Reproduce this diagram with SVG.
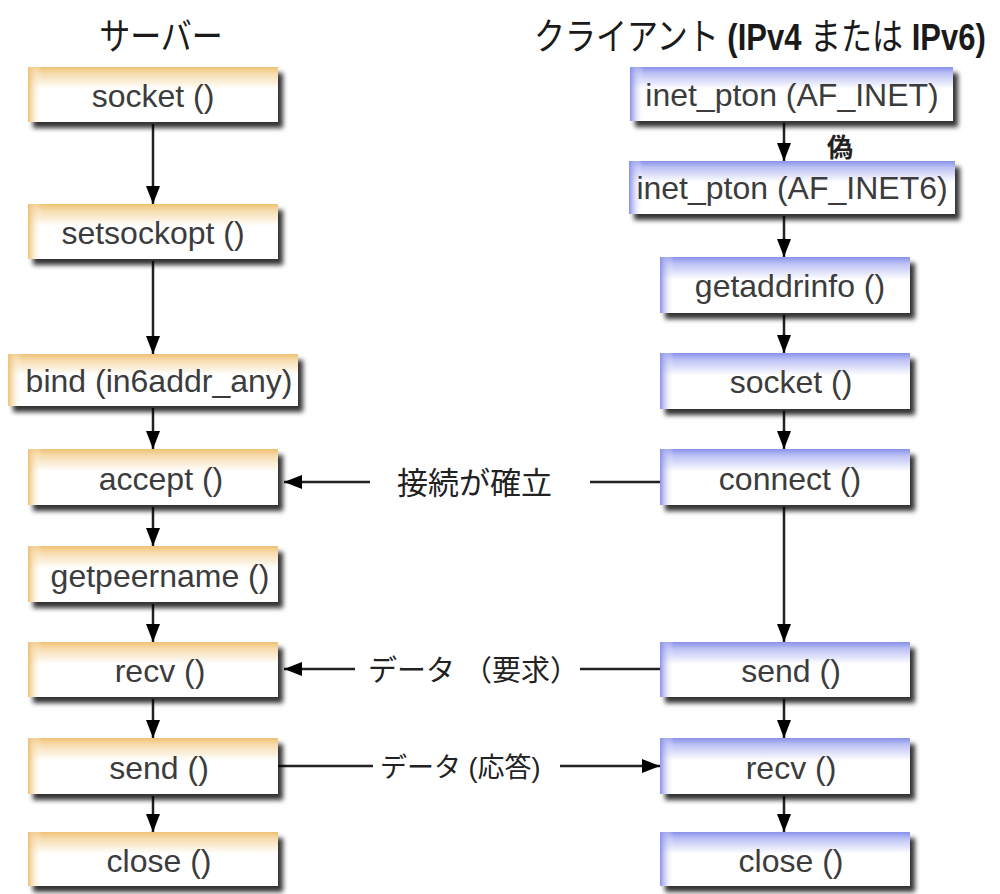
<svg xmlns="http://www.w3.org/2000/svg" width="1000" height="894" viewBox="0 0 1000 894">
<style>
  .box-text{font-family:"Liberation Sans","Noto Sans CJK JP",sans-serif;font-size:32px;fill:#3c3c3c;text-anchor:middle}
  .hdr{font-family:"Liberation Sans","Noto Sans CJK JP",sans-serif;font-size:31px;fill:#1a1a1a}
  .lbl{font-family:"Liberation Sans","Noto Sans CJK JP",sans-serif;fill:#222}
  .conn line{stroke:#222;stroke-width:2.5}
  .shadow{fill:#000;opacity:.8;filter:url(#blur)}
  .srv .bg{fill:url(#orV)}
  .srv .edge{fill:url(#orH)}
  .cli .bg{fill:url(#blV)}
  .cli .edge{fill:url(#blH)}
</style>
<defs>
  <filter id="blur" x="-10%" y="-30%" width="120%" height="160%"><feGaussianBlur stdDeviation="2.5"/></filter>
  <linearGradient id="orV" x1="0" y1="0" x2="0" y2="1">
    <stop offset="0" stop-color="#efc173"/><stop offset="0.12" stop-color="#f6dcae"/><stop offset="0.4" stop-color="#ffffff"/><stop offset="1" stop-color="#ffffff"/>
  </linearGradient>
  <linearGradient id="orH" x1="0" y1="0" x2="1" y2="0">
    <stop offset="0" stop-color="#efc173" stop-opacity="1"/><stop offset="1" stop-color="#ffffff" stop-opacity="0"/>
  </linearGradient>
  <linearGradient id="blV" x1="0" y1="0" x2="0" y2="1">
    <stop offset="0" stop-color="#8891ea"/><stop offset="0.12" stop-color="#bcc1f4"/><stop offset="0.4" stop-color="#ffffff"/><stop offset="1" stop-color="#ffffff"/>
  </linearGradient>
  <linearGradient id="blH" x1="0" y1="0" x2="1" y2="0">
    <stop offset="0" stop-color="#8891ea" stop-opacity="1"/><stop offset="1" stop-color="#ffffff" stop-opacity="0"/>
  </linearGradient>
  <marker id="arr" viewBox="0 0 18 14" markerWidth="18" markerHeight="14" refX="18" refY="7" orient="auto" markerUnits="userSpaceOnUse">
    <path d="M0,0 L18,7 L0,14 z" fill="#000"/>
  </marker>
</defs>
<rect width="1000" height="894" fill="#fff"/>

<!-- headers -->
<text class="hdr" transform="translate(161,50) scale(1,1.2)" text-anchor="middle">サーバー</text>
<text class="hdr" transform="translate(534,50) scale(1,1.2)">クライアント<tspan font-weight="bold"> (IPv4 </tspan>または<tspan font-weight="bold"> IPv6)</tspan></text>

<!-- connectors -->
<g id="connectors" class="conn">
  <line x1="153" y1="124" x2="153" y2="204" marker-end="url(#arr)"/>
  <line x1="153" y1="261" x2="153" y2="354" marker-end="url(#arr)"/>
  <line x1="153" y1="408" x2="153" y2="449" marker-end="url(#arr)"/>
  <line x1="153" y1="507" x2="153" y2="546" marker-end="url(#arr)"/>
  <line x1="153" y1="604" x2="153" y2="642" marker-end="url(#arr)"/>
  <line x1="153" y1="699" x2="153" y2="738" marker-end="url(#arr)"/>
  <line x1="153" y1="796" x2="153" y2="832" marker-end="url(#arr)"/>

  <line x1="784" y1="123" x2="784" y2="161" marker-end="url(#arr)"/>
  <line x1="784" y1="216" x2="784" y2="257" marker-end="url(#arr)"/>
  <line x1="784" y1="315" x2="784" y2="353" marker-end="url(#arr)"/>
  <line x1="784" y1="411" x2="784" y2="449" marker-end="url(#arr)"/>
  <line x1="784" y1="507" x2="784" y2="642" marker-end="url(#arr)"/>
  <line x1="784" y1="699" x2="784" y2="738" marker-end="url(#arr)"/>
  <line x1="784" y1="796" x2="784" y2="832" marker-end="url(#arr)"/>

  <line x1="370" y1="482" x2="284" y2="482" marker-end="url(#arr)"/>
  <line x1="590" y1="482" x2="660" y2="482"/>
  <line x1="355" y1="669" x2="284" y2="669" marker-end="url(#arr)"/>
  <line x1="580" y1="669" x2="660" y2="669"/>
  <line x1="278" y1="766" x2="373" y2="766"/>
  <line x1="560" y1="766" x2="660" y2="766" marker-end="url(#arr)"/>

  <text class="lbl" x="827" y="157" font-size="26" font-weight="bold">偽</text>
  <text class="lbl" x="397" y="494" font-size="31">接続が確立</text>
  <text class="lbl" x="368" y="681" font-size="29">データ （要求）</text>
  <text class="lbl" x="380" y="777" font-size="27">データ (応答)</text>
</g>

<!-- server nodes -->
<g id="srv-socket" class="srv">
  <rect class="shadow" x="33" y="73" width="250" height="55"/>
  <rect class="bg" x="28" y="67" width="250" height="55"/>
  <rect class="edge" x="28" y="67" width="14" height="55"/>
  <text class="box-text" x="153" y="107">socket ()</text>
</g>
<g id="srv-setsockopt" class="srv">
  <rect class="shadow" x="33" y="210" width="250" height="55"/>
  <rect class="bg" x="28" y="204" width="250" height="55"/>
  <rect class="edge" x="28" y="204" width="14" height="55"/>
  <text class="box-text" x="153" y="244">setsockopt ()</text>
</g>
<g id="srv-bind" class="srv">
  <rect class="shadow" x="13" y="360" width="290" height="52"/>
  <rect class="bg" x="8" y="354" width="290" height="52"/>
  <rect class="edge" x="8" y="354" width="14" height="52"/>
  <text class="box-text" x="159" y="392">bind (in6addr_any)</text>
</g>
<g id="srv-accept" class="srv">
  <rect class="shadow" x="33" y="455" width="250" height="56"/>
  <rect class="bg" x="28" y="449" width="250" height="56"/>
  <rect class="edge" x="28" y="449" width="14" height="56"/>
  <text class="box-text" x="161" y="490">accept ()</text>
</g>
<g id="srv-getpeername" class="srv">
  <rect class="shadow" x="33" y="552" width="250" height="56"/>
  <rect class="bg" x="28" y="546" width="250" height="56"/>
  <rect class="edge" x="28" y="546" width="14" height="56"/>
  <text class="box-text" x="160" y="587">getpeername ()</text>
</g>
<g id="srv-recv" class="srv">
  <rect class="shadow" x="33" y="648" width="250" height="55"/>
  <rect class="bg" x="28" y="642" width="250" height="55"/>
  <rect class="edge" x="28" y="642" width="14" height="55"/>
  <text class="box-text" x="160" y="682">recv ()</text>
</g>
<g id="srv-send" class="srv">
  <rect class="shadow" x="33" y="744" width="250" height="56"/>
  <rect class="bg" x="28" y="738" width="250" height="56"/>
  <rect class="edge" x="28" y="738" width="14" height="56"/>
  <text class="box-text" x="159" y="779">send ()</text>
</g>
<g id="srv-close" class="srv">
  <rect class="shadow" x="33" y="838" width="250" height="54"/>
  <rect class="bg" x="28" y="832" width="250" height="54"/>
  <rect class="edge" x="28" y="832" width="14" height="54"/>
  <text class="box-text" x="159" y="872">close ()</text>
</g>

<!-- client nodes -->
<g id="cli-inet-pton4" class="cli">
  <rect class="shadow" x="635" y="73" width="323" height="54"/>
  <rect class="bg" x="630" y="67" width="323" height="54"/>
  <rect class="edge" x="630" y="67" width="14" height="54"/>
  <text class="box-text" x="792" y="106">inet_pton (AF_INET)</text>
</g>
<g id="cli-inet-pton6" class="cli">
  <rect class="shadow" x="634" y="167" width="326" height="53"/>
  <rect class="bg" x="629" y="161" width="326" height="53"/>
  <rect class="edge" x="629" y="161" width="14" height="53"/>
  <text class="box-text" x="792" y="199">inet_pton (AF_INET6)</text>
</g>
<g id="cli-getaddrinfo" class="cli">
  <rect class="shadow" x="665" y="263" width="250" height="56"/>
  <rect class="bg" x="660" y="257" width="250" height="56"/>
  <rect class="edge" x="660" y="257" width="14" height="56"/>
  <text class="box-text" x="790" y="297">getaddrinfo ()</text>
</g>
<g id="cli-socket" class="cli">
  <rect class="shadow" x="665" y="359" width="250" height="56"/>
  <rect class="bg" x="660" y="353" width="250" height="56"/>
  <rect class="edge" x="660" y="353" width="14" height="56"/>
  <text class="box-text" x="791" y="393">socket ()</text>
</g>
<g id="cli-connect" class="cli">
  <rect class="shadow" x="665" y="455" width="250" height="56"/>
  <rect class="bg" x="660" y="449" width="250" height="56"/>
  <rect class="edge" x="660" y="449" width="14" height="56"/>
  <text class="box-text" x="790" y="490">connect ()</text>
</g>
<g id="cli-send" class="cli">
  <rect class="shadow" x="665" y="648" width="250" height="55"/>
  <rect class="bg" x="660" y="642" width="250" height="55"/>
  <rect class="edge" x="660" y="642" width="14" height="55"/>
  <text class="box-text" x="791" y="682">send ()</text>
</g>
<g id="cli-recv" class="cli">
  <rect class="shadow" x="665" y="744" width="250" height="56"/>
  <rect class="bg" x="660" y="738" width="250" height="56"/>
  <rect class="edge" x="660" y="738" width="14" height="56"/>
  <text class="box-text" x="791" y="779">recv ()</text>
</g>
<g id="cli-close" class="cli">
  <rect class="shadow" x="665" y="838" width="250" height="54"/>
  <rect class="bg" x="660" y="832" width="250" height="54"/>
  <rect class="edge" x="660" y="832" width="14" height="54"/>
  <text class="box-text" x="791" y="872">close ()</text>
</g>
</svg>
